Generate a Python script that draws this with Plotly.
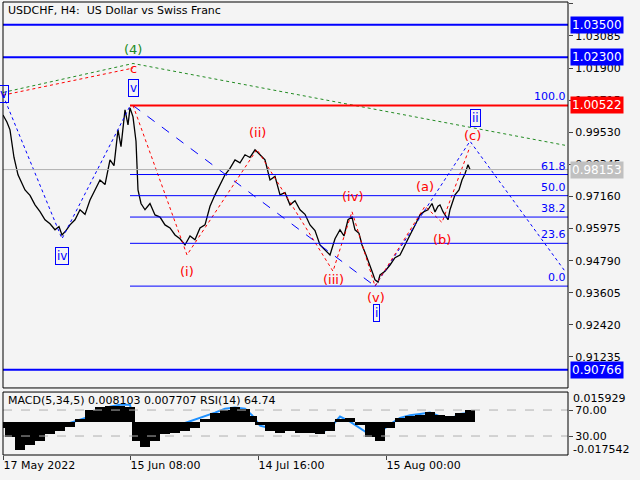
import plotly.graph_objects as go

# price path (bar position, close)
bar_x = [0, 4, 7, 11, 15, 18, 22, 27, 32, 37, 42, 47, 52, 56, 59, 63, 67, 72, 77, 82, 87, 92, 97, 102, 107,
         111, 115, 118, 122, 125, 127, 130, 133, 135, 138, 142, 147, 152, 157, 162, 167, 172, 177, 182, 187,
         192, 197, 202, 207, 212, 217, 222, 227, 232, 237, 242, 247, 252, 257, 262, 267, 272, 277, 282, 287,
         292, 297, 302, 307, 312, 317, 322, 327, 332, 337, 341, 345, 349, 352, 356, 359, 363, 367, 370, 372,
         375, 377, 382, 387, 392, 397, 402, 407, 412, 417, 421, 425, 429, 432, 435, 437, 440, 442, 445, 447,
         450, 452, 456, 459, 462, 465, 467]
close = [1.0017, 0.9990, 0.9962, 0.9860, 0.9796, 0.9770, 0.9740, 0.9720, 0.9685, 0.9660, 0.9630, 0.9615,
         0.9593, 0.9605, 0.9574, 0.9590, 0.9611, 0.9630, 0.9667, 0.9650, 0.9703, 0.9740, 0.9777, 0.9760,
         0.9851, 0.9830, 0.9962, 0.9900, 1.0036, 0.9980, 1.0043, 1.0010, 0.9920, 0.9740, 0.9690, 0.9667,
         0.9690, 0.9648, 0.9640, 0.9611, 0.9600, 0.9574, 0.9560, 0.9537, 0.9570, 0.9556, 0.9600, 0.9611,
         0.9680, 0.9722, 0.9760, 0.9796, 0.9820, 0.9851, 0.9840, 0.9870, 0.9860, 0.9888, 0.9870, 0.9851,
         0.9777, 0.9790, 0.9722, 0.9730, 0.9685, 0.9700, 0.9667, 0.9650, 0.9611, 0.9590, 0.9537, 0.9520,
         0.9500, 0.9560, 0.9593, 0.9570, 0.9630, 0.9640, 0.9593, 0.9580, 0.9537, 0.9500, 0.9463, 0.9430,
         0.9408, 0.9400, 0.9426, 0.9440, 0.9463, 0.9490, 0.9500, 0.9540, 0.9574, 0.9610, 0.9648, 0.9660,
         0.9667, 0.9690, 0.9659, 0.9680, 0.9685, 0.9660, 0.9648, 0.9630, 0.9667, 0.9700, 0.9722, 0.9740,
         0.9777, 0.9800, 0.9833, 0.98153]

# indicator panel
ind_x = [0, 7, 17, 27, 37, 47, 57, 67, 77, 87, 97, 107, 117, 127, 134, 142, 152, 162, 172, 182, 192, 202,
         212, 222, 232, 242, 249, 257, 267, 277, 287, 297, 307, 317, 327, 337, 347, 357, 367, 377, 387, 397,
         407, 417, 427, 437, 447, 457, 467]
macd = [-0.004, -0.010, -0.018, -0.015, -0.012, -0.008, -0.006, -0.003, 0.002, 0.008, 0.010, 0.011, 0.011,
        0.010, -0.012, -0.016, -0.012, -0.008, -0.007, -0.006, -0.004, 0.002, 0.006, 0.008, 0.010, 0.009,
        0.004, -0.002, -0.006, -0.007, -0.006, -0.007, -0.007, -0.008, -0.006, 0.002, 0.003, -0.002, -0.010,
        -0.012, -0.004, 0.003, 0.004, 0.005, 0.007, 0.005, 0.004, 0.006, 0.008]
rsi = [50, 40, 33, 38, 42, 45, 48, 50, 55, 60, 65, 75, 78, 78, 30, 38, 42, 44, 46, 50, 55, 60, 66, 72,
       74, 72, 62, 46, 42, 43, 40, 38, 37, 35, 42, 60, 52, 42, 32, 36, 48, 58, 62, 64, 66, 60, 56, 64, 66]

fib_levels = ["100.0", "61.8", "50.0", "38.2", "23.6", "0.0"]
fib_prices = [1.00522, 0.9797, 0.9719, 0.9640, 0.9543, 0.9385]
blue_levels = [1.03500, 1.02300, 0.90766]
price_ticks = [1.04270, 1.03085, 1.01900, 1.00715, 0.99530, 0.98345, 0.97160, 0.95975,
               0.94790, 0.93605, 0.92420, 0.91235]
time_ticks = [0, 127, 255, 383]
time_labels = ["17 May 2022", "15 Jun 08:00", "14 Jul 16:00", "15 Aug 00:00"]

blue_waves = [("v", 0, 1.0095), ("iv", 59, 0.9497), ("v", 130, 1.0117), ("i", 373, 0.9286), ("ii", 472, 1.0006)]
red_waves = [("(i)", 184, 0.9438), ("(ii)", 254, 0.9951), ("(iii)", 330, 0.9408), ("(iv)", 349, 0.9715),
             ("(v)", 373, 0.9342), ("(a)", 422, 0.9751), ("(b)", 439, 0.9556), ("(c)", 469, 0.9940),
             ("c", 130, 1.0190)]

BLUE = "#0000ff"
fig = go.Figure()

fig.add_trace(go.Scatter(x=bar_x, y=close, mode="lines", line=dict(color="black", width=1.3)))
# wave paths
fig.add_trace(go.Scatter(x=[0, 130, 562], y=[1.0100, 1.0207, 0.9905], mode="lines",
                         line=dict(color="#228b22", width=1, dash="dot")))
fig.add_trace(go.Scatter(x=[0, 130], y=[1.0090, 1.0190], mode="lines",
                         line=dict(color="red", width=1, dash="dot")))
fig.add_trace(go.Scatter(x=[0, 59, 127], y=[1.0090, 0.9560, 1.0050], mode="lines",
                         line=dict(color=BLUE, width=1, dash="dot")))
fig.add_trace(go.Scatter(x=[130, 372], y=[1.0052, 0.9385], mode="lines",
                         line=dict(color=BLUE, width=1, dash="dash")))
fig.add_trace(go.Scatter(x=[372, 467, 562], y=[0.9385, 0.9920, 0.9440], mode="lines",
                         line=dict(color=BLUE, width=1, dash="dot")))
fig.add_trace(go.Scatter(x=[130, 184, 254, 330, 349, 372, 422, 439, 467],
                         y=[1.0052, 0.9500, 0.9890, 0.9440, 0.9660, 0.9385, 0.9680, 0.9620, 0.9900],
                         mode="lines", line=dict(color="red", width=1, dash="dot")))

# indicator
fig.add_trace(go.Bar(x=ind_x, y=macd, marker=dict(color="black", line_width=0), width=10,
                     xaxis="x", yaxis="y3"))
fig.add_trace(go.Scatter(x=ind_x, y=rsi, mode="lines", line=dict(color="#1e90ff", width=2),
                         xaxis="x", yaxis="y2"))

shapes = []
for p in blue_levels:
    shapes.append(dict(type="line", xref="x", yref="y", x0=0, x1=565, y0=p, y1=p,
                       line=dict(color=BLUE, width=2)))
shapes.append(dict(type="line", xref="x", yref="y", x0=0, x1=565, y0=0.98153, y1=0.98153,
                   line=dict(color="#b0b0b0", width=1)))
for lab, p in zip(fib_levels, fib_prices):
    shapes.append(dict(type="line", xref="x", yref="y", x0=127, x1=565, y0=p, y1=p,
                       line=dict(color="red" if lab == "100.0" else BLUE, width=2 if lab == "100.0" else 1)))
for v in [70, 30]:
    shapes.append(dict(type="line", xref="x", yref="y2", x0=0, x1=565, y0=v, y1=v,
                       line=dict(color="#b0b0b0", width=1, dash="dash")))
shapes.append(dict(type="rect", xref="paper", yref="paper", x0=0, x1=1, y0=0.148, y1=1,
                   line=dict(color="black", width=1)))
shapes.append(dict(type="rect", xref="paper", yref="paper", x0=0, x1=1, y0=0, y1=0.139,
                   line=dict(color="black", width=1)))

ann = []
for lab, p in zip(fib_levels, fib_prices):
    ann.append(dict(x=565, y=p, xref="x", yref="y", text=lab, showarrow=False, xanchor="right",
                    yanchor="bottom", font=dict(color=BLUE, size=11)))
for lab, x, p in blue_waves:
    ann.append(dict(x=x, y=p, xref="x", yref="y", text=lab, showarrow=False, font=dict(color=BLUE, size=12),
                    bordercolor=BLUE, borderwidth=1, borderpad=1))
for lab, x, p in red_waves:
    ann.append(dict(x=x, y=p, xref="x", yref="y", text=lab, showarrow=False, font=dict(color="red", size=13)))
ann.append(dict(x=130, y=1.0257, xref="x", yref="y", text="(4)", showarrow=False,
                font=dict(color="#228b22", size=13)))
for p, c in [(1.03500, BLUE), (1.02300, BLUE), (1.00522, "red"), (0.98153, "#c0c0c0"), (0.90766, BLUE)]:
    ann.append(dict(x=1.003, y=p, xref="paper", yref="y", text=f"{p:.5f}", showarrow=False, xanchor="left",
                    bgcolor=c, font=dict(color="white", size=12), borderpad=1))
ann.append(dict(x=0.005, y=1, xref="paper", yref="paper", text="USDCHF, H4:  US Dollar vs Swiss Franc",
                showarrow=False, xanchor="left", yanchor="top", font=dict(size=11, color="black")))
ann.append(dict(x=0.005, y=0.139, xref="paper", yref="paper",
                text="MACD(5,34,5) 0.008103 0.007707 RSI(14) 64.74",
                showarrow=False, xanchor="left", yanchor="top", font=dict(size=11, color="black")))
for v, t in [(0.015929, "0.015929"), (-0.017542, "-0.017542")]:
    ann.append(dict(x=1.005, y=v, xref="paper", yref="y3", text=t, showarrow=False, xanchor="left",
                    font=dict(size=11, color="black")))

fig.update_layout(
    width=640, height=480, showlegend=False,
    paper_bgcolor="#f4f4f4", plot_bgcolor="#f4f4f4",
    margin=dict(l=3, r=72, t=2, b=25, autoexpand=False),
    font=dict(family="DejaVu Sans", size=11, color="black"),
    shapes=shapes, annotations=ann, bargap=0,
    xaxis=dict(range=[0, 565], tickvals=time_ticks, ticktext=time_labels, ticks="outside",
               ticklen=4, showgrid=False, zeroline=False, anchor="y2", ticklabelposition="outside right"),
    yaxis=dict(domain=[0.148, 1], range=[0.9009, 1.0434], side="right", tickvals=price_ticks,
               tickformat=".5f", ticks="outside", ticklen=4, showgrid=False, zeroline=False),
    yaxis2=dict(domain=[0, 0.139], range=[0.8, 97.7], side="right", tickvals=[70, 30],
                ticktext=["70.00", "30.00"], ticks="outside", ticklen=4, showgrid=False, zeroline=False),
    yaxis3=dict(domain=[0, 0.139], range=[-0.02148, 0.01987], overlaying="y2", visible=False),
)
fig.write_html("out.html", config={"displayModeBar": False},
               post_script="document.body.style.margin='0';")
